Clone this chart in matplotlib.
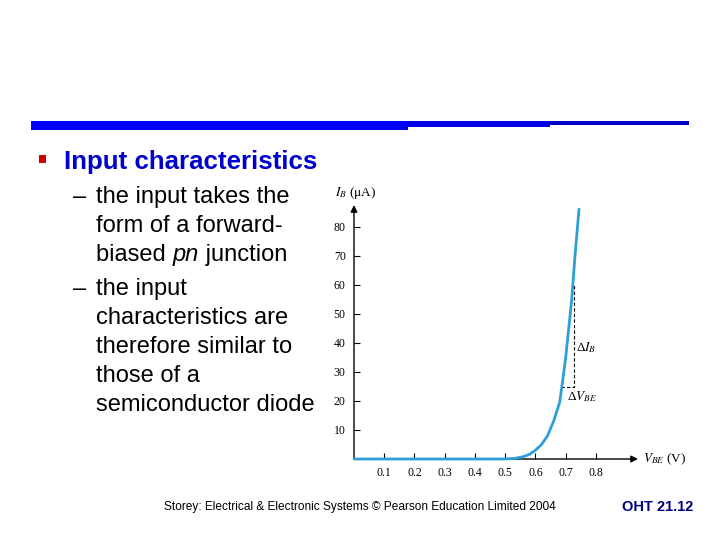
"""Slide: BJT input characteristics (I_B vs V_BE)."""
import matplotlib
matplotlib.use("Agg")
import matplotlib.pyplot as plt

# ----------------------------------------------------------------------
# data
# ----------------------------------------------------------------------
vbe = [0.0, 0.50, 0.53, 0.56, 0.58, 0.60, 0.62, 0.64, 0.66, 0.68,
       0.69, 0.70, 0.71, 0.72, 0.73, 0.744]
ib = [0.0, 0.0, 0.2, 0.8, 1.6, 3.0, 5.0, 8.0, 13.0, 19.5,
      27.0, 35.0, 45.0, 55.0, 69.0, 86.0]

x_ticks = [0.1, 0.2, 0.3, 0.4, 0.5, 0.6, 0.7, 0.8]
y_ticks = [10, 20, 30, 40, 50, 60, 70, 80]

# delta triangle (V, I)
dv = [0.686, 0.729]
di = [24.7, 60.0]

# bullet lines; (text, italic) pieces per line
bullets = [
    [[("the input takes the", False)],
     [("form of a forward-", False)],
     [("biased ", False), ("pn", True), (" junction", False)]],
    [[("the input", False)],
     [("characteristics are", False)],
     [("therefore similar to", False)],
     [("those of a", False)],
     [("semiconductor diode", False)]],
]

plt.rcParams["mathtext.fontset"] = "stix"
SANS = ["Liberation Sans", "DejaVu Sans"]
SERIF = ["Liberation Serif", "DejaVu Serif"]

W, H = 720, 540
fig = plt.figure(figsize=(7.2, 5.4), dpi=100)


def fx(px):
    return px / W


def fy(py):
    return 1 - py / H


# header bars
bg = fig.add_axes([0, 0, 1, 1])
bg.set_xlim(0, W)
bg.set_ylim(H, 0)
bg.axis("off")
bg.fill_between([31, 408], 121, 129.5, color="#0000ff", lw=0)
bg.fill_between([408, 550], 121, 127, color="#0000e6", lw=0)
bg.fill_between([550, 689], 121, 125, color="#0000c8", lw=0)

# bullet + title
bg.add_patch(plt.Rectangle((39, 155), 7, 8, color="#d40000", lw=0))
fig.text(fx(64), fy(169), "Input characteristics", fontsize=18.6,
         weight="bold", color="#0000cc", family=SANS, va="baseline")

# sub-bullets, one text per line (pieces laid end to end)
renderer = fig.canvas.get_renderer()
y = 203
for b in bullets:
    fig.text(fx(73), fy(y), "–", fontsize=17, family=SANS, va="baseline")
    for line in b:
        x = 96
        for piece, ital in line:
            t = fig.text(fx(x), fy(y), piece, fontsize=17, family=SANS,
                         style="italic" if ital else "normal",
                         va="baseline")
            x += t.get_window_extent(renderer).width
        y += 28.8
    y += 6

# footer
fig.text(fx(164), fy(507), "Storey: Electrical & Electronic Systems © "
         "Pearson Education Limited 2004", fontsize=8.6, family=SANS,
         va="center")
fig.text(fx(622), fy(507), "OHT 21.12", fontsize=10.5, weight="bold",
         color="#000080", family=SANS, va="center")

# ----------------------------------------------------------------------
# chart
# ----------------------------------------------------------------------
x0, x1, y0, y1 = 354, 638, 459, 205
xmax, ymax = 0.939, 87.4
ax = fig.add_axes([fx(x0), fy(y0), fx(x1 - x0), (y0 - y1) / H])
ax.set_xlim(0, xmax)
ax.set_ylim(0, ymax)
for s in ax.spines.values():
    s.set_visible(False)
ax.patch.set_alpha(0)

ax.annotate("", (xmax, 0), (0, 0), annotation_clip=False,
            arrowprops=dict(arrowstyle="-|>", color="black", lw=1.0,
                            shrinkA=0, shrinkB=0, mutation_scale=10))
ax.annotate("", (0, ymax), (0, 0), annotation_clip=False,
            arrowprops=dict(arrowstyle="-|>", color="black", lw=1.0,
                            shrinkA=0, shrinkB=0, mutation_scale=10))

ax.plot(vbe, ib, color="#2e9fd6", lw=2.0, clip_on=False, zorder=3,
        solid_capstyle="round")
ax.plot([dv[0], dv[1], dv[1]], [di[0], di[0], di[1]], color="black",
        lw=0.8, ls=(0, (3, 2)))

ax.set_xticks(x_ticks)
ax.set_xticklabels([f"{v:.1f}" for v in x_ticks])
ax.set_yticks(y_ticks)
ax.set_yticklabels([str(v) for v in y_ticks])
ax.tick_params(direction="in", length=4, width=0.8, labelsize=8.5, pad=6)
for lab in ax.get_xticklabels() + ax.get_yticklabels():
    lab.set_family(SERIF)

ax.text(-0.062, 91.5, "$I_B$ (μA)", fontsize=9.5, family=SERIF,
        va="center", ha="left")
ax.text(0.955, 0, "$V_{BE}$ (V)", fontsize=9.5, family=SERIF,
        va="center", ha="left")
ax.text(0.735, 38.5, "Δ$I_B$", fontsize=9.5, family=SERIF,
        va="center", ha="left")
ax.text(0.705, 21.5, "Δ$V_{BE}$", fontsize=9.5, family=SERIF,
        va="center", ha="left")

fig.savefig("out.png", dpi=100)
